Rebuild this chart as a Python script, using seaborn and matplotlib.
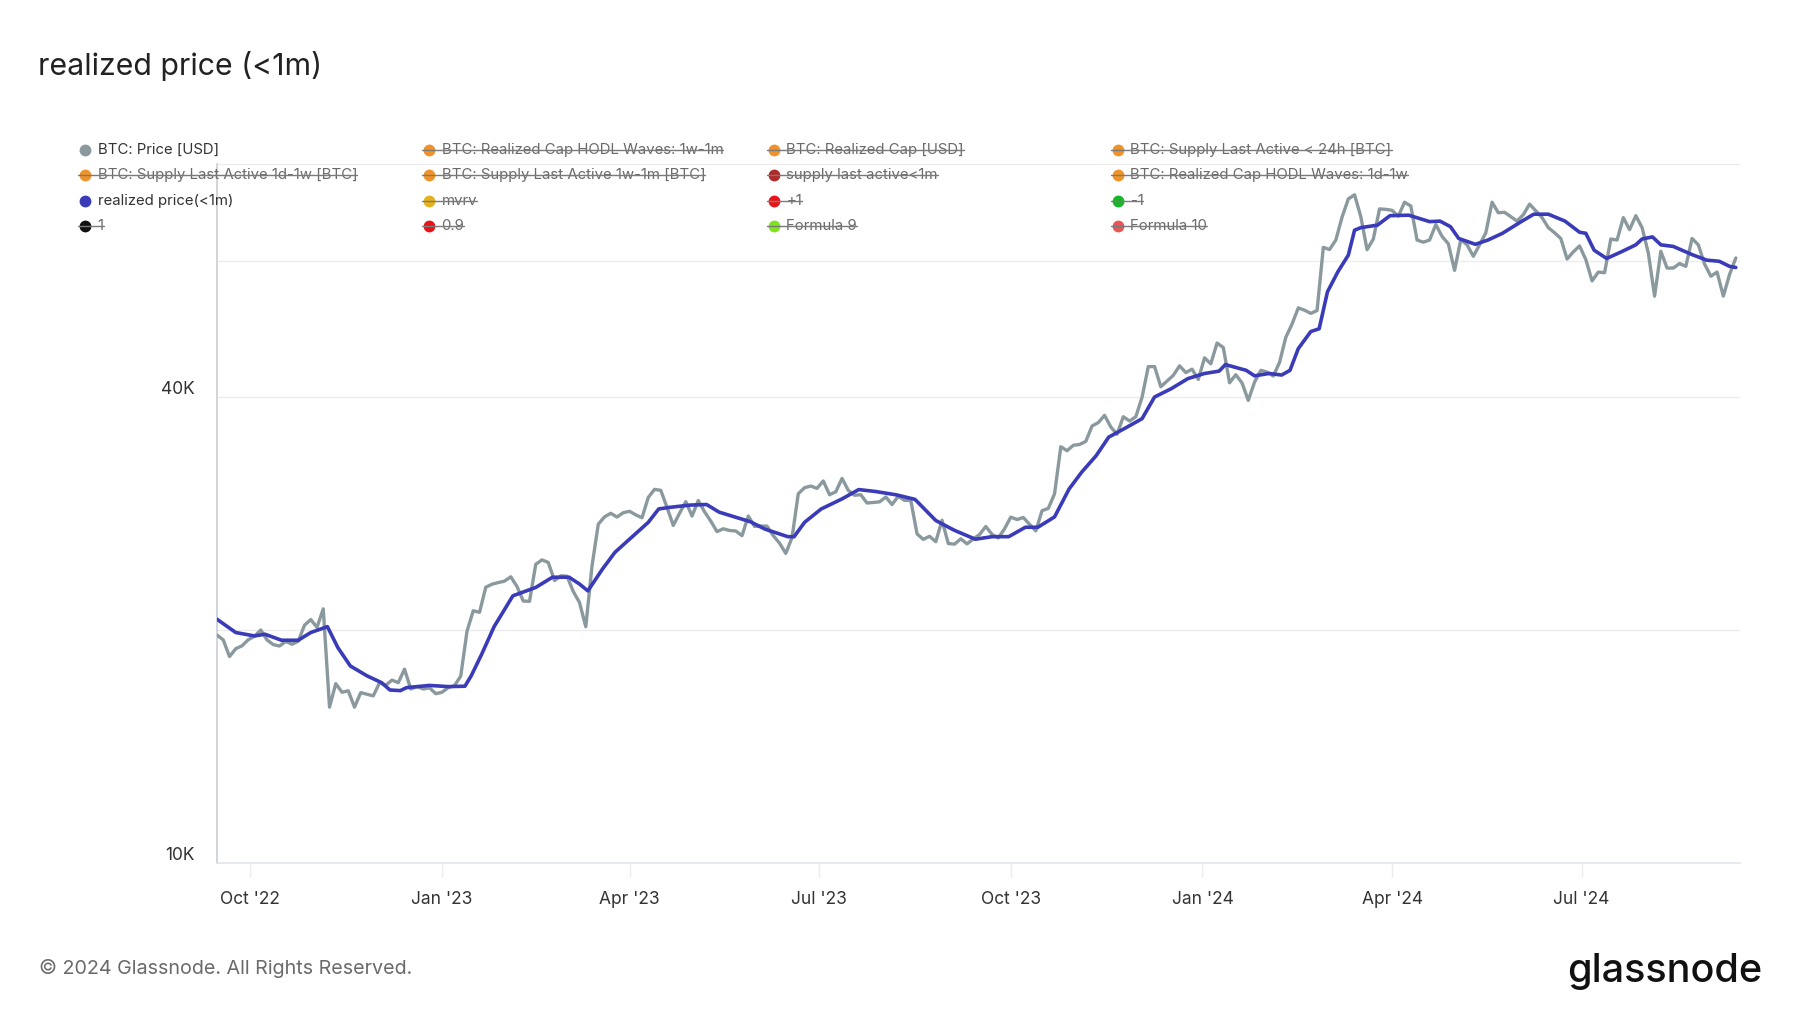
import numpy as np
import pandas as pd
import matplotlib
matplotlib.use("Agg")
import matplotlib.pyplot as plt
import matplotlib.transforms as mtransforms
from matplotlib.lines import Line2D
import seaborn as sns

# ---------------- data ----------------
price_start = "2022-09-15"          # sampled every 3 days
price_k = [
    # Sep 2022
    19.70, 19.42, 18.48, 18.92, 19.08, 19.43,
    # Oct
    19.63, 20.00, 19.42, 19.15, 19.07, 19.33, 19.17, 19.34, 20.29, 20.63,
    # Nov
    20.16, 21.30, 15.90, 17.05, 16.62, 16.69, 15.90, 16.60, 16.52, 16.44,
    # Dec
    17.09, 16.97, 17.23, 17.10, 17.80, 16.78, 16.90, 16.78, 16.84, 16.55,
    # Jan 2023
    16.62, 16.85, 16.95, 17.44, 19.93, 21.18, 21.08, 22.71, 22.92, 23.03, 23.13,
    # Feb
    23.43, 22.76, 21.80, 21.78, 24.32, 24.64, 24.45, 23.17, 23.50,
    # Mar
    23.47, 22.43, 21.70, 20.20, 24.20, 27.40, 28.00, 28.30, 27.99, 28.35,
    # Apr
    28.47, 28.17, 27.93, 29.67, 30.39, 30.30, 28.80, 27.30, 28.30, 29.30,
    # May
    28.07, 29.40, 28.43, 27.65, 26.80, 27.03, 26.89, 26.85, 26.48, 28.07, 27.22,
    # Jun
    27.25, 27.24, 26.48, 25.90, 25.12, 26.33, 30.00, 30.54, 30.69, 30.48,
    # Jul
    31.16, 29.91, 30.17, 31.40, 30.30, 29.86, 29.91, 29.18, 29.23, 29.28,
    # Aug
    29.70, 29.05, 29.77, 29.41, 29.41, 26.62, 26.19, 26.43, 26.01, 27.72,
    # Sep
    25.87, 25.82, 26.23, 25.84, 26.22, 26.57, 27.21, 26.58, 26.30, 27.03,
    # Oct
    27.98, 27.78, 27.95, 27.39, 26.86, 28.52, 28.72, 29.99, 34.50, 34.09, 34.65,
    # Nov
    34.73, 35.05, 36.69, 37.07, 37.88, 36.59, 35.80, 37.72, 37.24, 37.72,
    # Dec
    39.97, 43.78, 43.79, 41.24, 41.94, 42.66, 43.89, 43.01, 43.45, 42.15,
    # Jan 2024
    44.94, 44.15, 46.97, 46.34, 41.73, 42.74, 41.70, 39.60, 41.82, 43.30,
    # Feb
    43.08, 42.58, 44.34, 47.77, 49.70, 52.14, 51.78, 51.30, 51.73, 62.43,
    # Mar
    62.03, 63.80, 68.30, 72.10, 73.00, 68.40, 62.00, 64.00, 70.00, 69.90,
    # Apr
    69.70, 68.50, 71.40, 70.60, 63.80, 63.40, 63.80, 66.80, 64.50, 63.10,
    # May
    58.30, 63.90, 62.90, 60.80, 62.90, 65.20, 71.40, 69.20, 69.30, 68.40, 67.50,
    # Jun
    68.80, 71.00, 69.60, 68.20, 66.20, 65.20, 64.10, 60.30, 61.60, 62.70,
    # Jul
    60.20, 56.50, 58.00, 57.90, 64.00, 63.80, 68.20, 65.80, 68.60, 66.20,
    # Aug
    61.40, 54.00, 61.70, 58.70, 58.70, 59.50, 59.00, 64.10, 62.90, 59.40,
    # Sep
    57.30, 58.00, 54.00, 57.60, 60.50,
]

rp_dates = [
    "2022-09-15", "2022-09-24", "2022-10-03", "2022-10-08", "2022-10-16", "2022-10-24",
    "2022-10-30", "2022-11-07", "2022-11-12", "2022-11-18", "2022-11-26", "2022-12-03",
    "2022-12-07", "2022-12-12", "2022-12-15", "2022-12-26", "2023-01-04", "2023-01-12",
    "2023-01-15", "2023-01-20", "2023-01-26", "2023-02-04", "2023-02-15", "2023-02-23",
    "2023-03-03", "2023-03-08", "2023-03-12", "2023-03-19", "2023-03-25", "2023-04-02",
    "2023-04-10", "2023-04-15", "2023-04-20", "2023-04-30", "2023-05-08", "2023-05-14",
    "2023-05-22", "2023-05-29", "2023-06-05", "2023-06-16", "2023-06-19", "2023-06-24",
    "2023-07-02", "2023-07-12", "2023-07-20", "2023-07-28", "2023-08-07", "2023-08-16",
    "2023-08-26", "2023-09-04", "2023-09-14", "2023-09-22", "2023-09-30", "2023-10-08",
    "2023-10-14", "2023-10-22", "2023-10-29", "2023-11-04", "2023-11-11", "2023-11-17",
    "2023-11-25", "2023-12-03", "2023-12-09", "2023-12-17", "2023-12-25", "2024-01-02",
    "2024-01-09", "2024-01-12", "2024-01-22", "2024-01-26", "2024-02-02", "2024-02-08",
    "2024-02-12", "2024-02-16", "2024-02-22", "2024-02-26", "2024-03-01", "2024-03-06",
    "2024-03-11", "2024-03-14", "2024-03-17", "2024-03-25", "2024-03-31", "2024-04-09",
    "2024-04-19", "2024-04-24", "2024-04-29", "2024-05-03", "2024-05-11", "2024-05-17",
    "2024-05-24", "2024-06-02", "2024-06-08", "2024-06-15", "2024-06-23", "2024-06-30",
    "2024-07-03", "2024-07-07", "2024-07-13", "2024-07-20", "2024-07-27", "2024-07-30",
    "2024-08-04", "2024-08-08", "2024-08-14", "2024-08-23", "2024-08-30", "2024-09-05",
    "2024-09-10", "2024-09-13",
]
rp_k = [
    20.65, 19.85, 19.65, 19.75, 19.40, 19.40, 19.85, 20.20, 18.98, 17.97, 17.45, 17.10,
    16.73, 16.70, 16.85, 16.96, 16.90, 16.92, 17.45, 18.60, 20.20, 22.14, 22.70, 23.40,
    23.40, 22.93, 22.47, 23.97, 25.20, 26.35, 27.55, 28.67, 28.80, 29.00, 29.05, 28.40,
    27.97, 27.60, 27.00, 26.40, 26.40, 27.55, 28.67, 29.54, 30.37, 30.20, 29.90, 29.50,
    27.70, 26.90, 26.20, 26.40, 26.40, 27.15, 27.15, 28.00, 30.43, 31.98, 33.60, 35.50,
    36.47, 37.50, 40.00, 41.00, 42.25, 42.90, 43.20, 44.05, 43.30, 42.60, 42.90, 42.70,
    43.30, 46.20, 48.60, 49.00, 54.70, 58.06, 61.00, 65.70, 66.20, 66.70, 68.60, 68.70,
    67.40, 67.50, 66.40, 64.10, 63.00, 63.80, 65.10, 67.40, 68.90, 68.90, 67.50, 65.30,
    65.10, 61.90, 60.40, 61.60, 62.90, 64.00, 64.40, 62.90, 62.60, 61.10, 60.10, 59.90,
    59.00, 58.80,
]

x_tick_dates = ["2022-10-01", "2023-01-01", "2023-04-01", "2023-07-01",
                "2023-10-01", "2024-01-01", "2024-04-01", "2024-07-01"]
x_tick_labels = ["Oct '22", "Jan '23", "Apr '23", "Jul '23",
                 "Oct '23", "Jan '24", "Apr '24", "Jul '24"]
y_grid_values = [20000, 40000, 60000, 80000]
y_label_values = [10000, 40000]
y_label_texts = ["10K", "40K"]

legend_labels = [
    "BTC: Price [USD]", "BTC: Realized Cap HODL Waves: 1w-1m", "BTC: Realized Cap [USD]",
    "BTC: Supply Last Active < 24h [BTC]",
    "BTC: Supply Last Active 1d-1w [BTC]", "BTC: Supply Last Active 1w-1m [BTC]",
    "supply last active<1m", "BTC: Realized Cap HODL Waves: 1d-1w",
    "realized price(<1m)", "mvrv", "+1", "-1",
    "1", "0.9", "Formula 9", "Formula 10",
]
legend_colors = [
    "#8a999e", "#f0922a", "#f0922a", "#f0922a",
    "#f0922a", "#f0922a", "#b02a2a", "#f0922a",
    "#3a3bb8", "#e6b21c", "#e8141a", "#17b52a",
    "#111111", "#e8141a", "#7ee21c", "#e85555",
]
legend_hidden = [
    False, True, True, True,
    True, True, True, True,
    False, True, True, True,
    True, True, True, True,
]

PRICE_COLOR = "#8a999e"
RP_COLOR = "#3a3bb8"

# ---------------- frames ----------------
price_df = pd.DataFrame({
    "date": pd.date_range(price_start, periods=len(price_k), freq="3D"),
    "value": np.array(price_k) * 1000.0,
})
rp_df = pd.DataFrame({
    "date": pd.to_datetime(rp_dates),
    "value": np.array(rp_k) * 1000.0,
})

# ---------------- plot ----------------
sns.set_theme(style="white")
plt.rcParams["font.family"] = ["Inter", "DejaVu Sans"]

W, H = 1800, 1013
fig = plt.figure(figsize=(W / 100, H / 100), dpi=100)
L, R, T, B = 217, 1740, 164, 863
ax = fig.add_axes([L / W, 1 - B / H, (R - L) / W, (B - T) / H])

sns.lineplot(data=price_df, x="date", y="value", ax=ax, color=PRICE_COLOR,
             linewidth=2.4, zorder=3)
sns.lineplot(data=rp_df, x="date", y="value", ax=ax, color=RP_COLOR,
             linewidth=2.6, zorder=4)

ax.set_yscale("log")
ax.set_ylim(10000, 80000)
ax.set_xlim(pd.Timestamp("2022-09-15"), pd.Timestamp("2024-09-15"))
ax.set_xlabel("")
ax.set_ylabel("")

ax.yaxis.set_minor_locator(matplotlib.ticker.NullLocator())
ax.set_yticks(y_grid_values)
ax.set_yticklabels([])
ax.tick_params(axis="y", length=0)
ax.yaxis.grid(True, color="#ececec", linewidth=1.0)
ax.xaxis.grid(False)

ax.set_xticks(pd.to_datetime(x_tick_dates))
ax.set_xticklabels(x_tick_labels, fontsize=12.5, color="#333333")
ax.tick_params(axis="x", length=10, width=1, color="#ececec", pad=10.5, bottom=True)

for s in ["top", "right"]:
    ax.spines[s].set_visible(False)
ax.spines["left"].set_color("#c9d0d8")
ax.spines["left"].set_linewidth(1.2)
ax.spines["bottom"].set_color("#e3e6ea")
ax.spines["bottom"].set_linewidth(1.2)

ytrans = mtransforms.offset_copy(ax.get_yaxis_transform(), fig=fig, x=-22, y=8, units="dots")
for v, t in zip(y_label_values, y_label_texts):
    ax.text(0, v, t, transform=ytrans, ha="right", va="center",
            fontsize=12.5, color="#333333")

# title and footer
fig.text(38 / W, 1 - 66 / H, "realized price (<1m)", fontsize=21.8, color="#222222",
         ha="left", va="center")
fig.text(39 / W, 1 - 968 / H, "© 2024 Glassnode. All Rights Reserved.", fontsize=14.2,
         color="#6a6a6a", ha="left", va="center")
fig.text(1762 / W, 1 - 971 / H, "glassnode", fontsize=28.5, color="#111111",
         ha="right", va="center", fontweight="medium")

# legend (drawn manually to show struck-through hidden series)
col_x = [85, 429, 774, 1118]
row_y = [150, 175.5, 201, 226]
texts = []
for i, (lab, col, hid) in enumerate(zip(legend_labels, legend_colors, legend_hidden)):
    cx = col_x[i % 4]
    cy = row_y[i // 4]
    fig.add_artist(Line2D([cx / W], [1 - cy / H], transform=fig.transFigure,
                          marker="o", markersize=7.5, color=col, markeredgecolor=col,
                          linestyle="none", zorder=10))
    t = fig.text((cx + 12.5) / W, 1 - cy / H, lab, fontsize=10.75,
                 color="#6a6a6a" if hid else "#333333", ha="left", va="center",
                 zorder=10)
    texts.append((t, cx, cy, hid))

fig.canvas.draw()
renderer = fig.canvas.get_renderer()
for t, cx, cy, hid in texts:
    if hid:
        bb = t.get_window_extent(renderer)
        fig.add_artist(Line2D([(cx - 7) / W, bb.x1 / W], [1 - cy / H, 1 - cy / H],
                              transform=fig.transFigure, color="#7a7a7a",
                              linewidth=1.0, zorder=11))

fig.savefig("out.png", dpi=100, facecolor="white")
